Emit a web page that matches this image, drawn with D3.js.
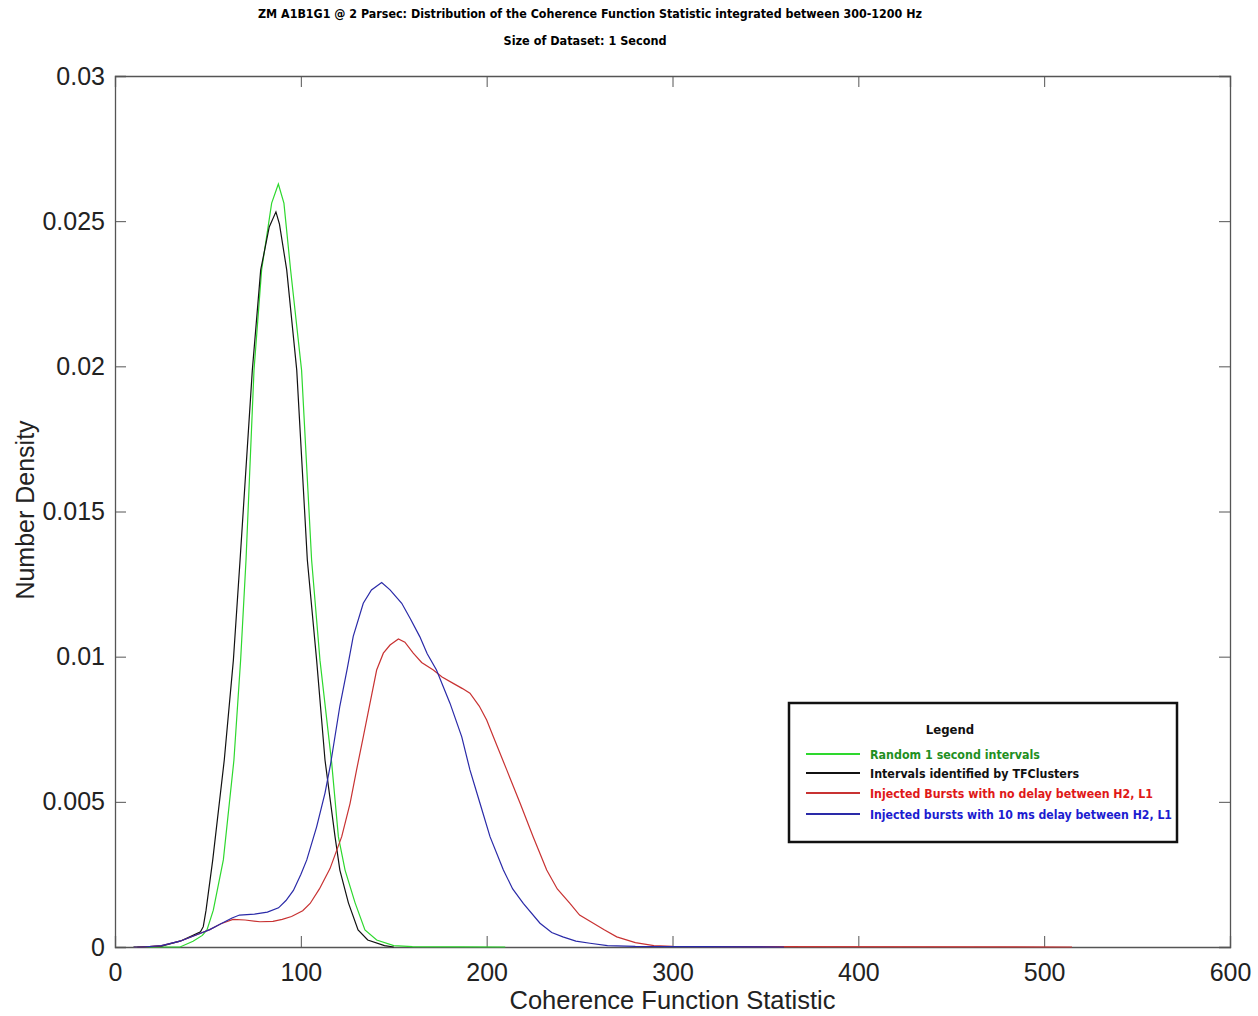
<!DOCTYPE html>
<html>
<head>
<meta charset="utf-8">
<script src="https://cdn.jsdelivr.net/npm/d3@7"></script>
<style>
  body { margin: 0; background: #fff; }
  .narrow { font-family: "Liberation Sans Narrow", "DejaVu Sans Condensed", "Arial Narrow", sans-serif; font-weight: bold; }
  .axis text { font-family: "Liberation Sans", Arial, sans-serif; font-size: 25px; fill: #222; }
  .axis path, .axis line { stroke: #555; }
</style>
</head>
<body>
<div id="chart"></div>
<script>
// values
const xTicks = [0, 100, 200, 300, 400, 500, 600];
const yTicks = [0, 0.005, 0.01, 0.015, 0.02, 0.025, 0.03];
const yTickLabels = ["0", "0.005", "0.01", "0.015", "0.02", "0.025", "0.03"];

// Random 1 second intervals (green)
const randomX = [10, 35, 42, 47, 49.5, 52.9, 58.3, 64, 67.6, 70.5, 74.8, 78.9, 84.3, 87.9, 90.9, 94.5, 100.4, 105.8, 110.3, 116.6, 120.2, 123.8, 129.2, 134.5, 140.8, 150, 160, 210];
const randomY = [0, 0, 0.0002, 0.0004, 0.00059, 0.00127, 0.003, 0.00644, 0.00988, 0.01333, 0.01987, 0.02332, 0.02562, 0.02628, 0.02562, 0.02332, 0.01987, 0.01333, 0.00988, 0.00634, 0.0038, 0.00265, 0.00152, 0.00059, 0.00024, 0.00005, 0.00001, 0];

// Intervals identified by TFClusters (black)
const tfX = [12, 25, 35, 42, 46, 47.5, 49, 52.6, 58.8, 63.7, 67.3, 73.9, 78.4, 83, 86.6, 88.5, 92.4, 97.8, 103.5, 108.5, 113, 118.4, 121, 125.6, 130.8, 136, 145, 150];
const tfY = [0, 0.00003, 0.0002, 0.0004, 0.00052, 0.0007, 0.00127, 0.003, 0.00644, 0.00988, 0.01333, 0.01987, 0.02332, 0.0248, 0.02532, 0.0249, 0.02332, 0.01987, 0.01333, 0.00988, 0.00644, 0.0038, 0.00265, 0.00152, 0.00059, 0.00024, 0.00005, 0];

// Injected bursts, no delay between H2, L1 (red)
const noDelayX = [10, 15, 25, 35, 45, 51, 57, 63.5, 70, 78, 85, 90, 95, 101, 105, 110, 115.7, 122, 126.5, 130, 133.6, 137.2, 140.8, 144.4, 148, 152.5, 156, 160.5, 165, 171.3, 176, 182, 187, 191, 196, 200, 203.6, 210.8, 218, 225, 232.3, 238, 244.8, 250, 257.4, 263, 270, 280, 290, 300, 515];
const noDelayY = [0, 0, 0.00005, 0.0002, 0.00045, 0.0006, 0.0008, 0.00095, 0.00093, 0.00087, 0.00088, 0.00095, 0.00105, 0.00125, 0.0015, 0.002, 0.0027, 0.0038, 0.00495, 0.0061, 0.00724, 0.00839, 0.00954, 0.01012, 0.0104, 0.01061, 0.0105, 0.01012, 0.0098, 0.00954, 0.0093, 0.00908, 0.0089, 0.00874, 0.0083, 0.00782, 0.00724, 0.0061, 0.00495, 0.0038, 0.00265, 0.002, 0.0015, 0.0011, 0.00082, 0.0006, 0.00035, 0.00015, 0.00005, 0.00002, 0];

// Injected bursts, 10 ms delay between H2, L1 (blue)
const delayX = [10, 15, 25, 35, 45, 51, 57, 63, 67, 75, 82, 88, 92, 96, 100, 103.2, 108.5, 113, 116, 121, 125, 128.2, 133.6, 138, 143.5, 148, 154.3, 159, 164, 168, 173, 180.3, 186.6, 191, 196.4, 201.8, 209, 214, 219.7, 228.7, 235, 241, 248, 255.6, 265, 280, 360];
const delayY = [0, 0, 0.00005, 0.0002, 0.00045, 0.0006, 0.0008, 0.001, 0.0011, 0.00113, 0.0012, 0.00135, 0.0016, 0.00195, 0.0025, 0.003, 0.00414, 0.0053, 0.0063, 0.0083, 0.0096, 0.0107, 0.01184, 0.0123, 0.01255, 0.0123, 0.01184, 0.0113, 0.01069, 0.0101, 0.00954, 0.00839, 0.00724, 0.0061, 0.00495, 0.0038, 0.00265, 0.002, 0.0015, 0.00082, 0.0005, 0.00035, 0.0002, 0.00013, 0.00005, 0.00002, 0];

const seriesNames = ["Random 1 second intervals", "Intervals identified by TFClusters",
                     "Injected Bursts with no delay between H2, L1", "Injected bursts with 10 ms delay between H2, L1"];

const series = [
    {name: seriesNames[0], xs: randomX, ys: randomY, line: "#2ed82e", text: "#1f8f1f"},
    {name: seriesNames[1], xs: tfX, ys: tfY, line: "#111", text: "#111"},
    {name: seriesNames[2], xs: noDelayX, ys: noDelayY, line: "#c83232", text: "#e01818"},
    {name: seriesNames[3], xs: delayX, ys: delayY, line: "#2a2aa8", text: "#1c1cd0"}
];

const width = 1258, height = 1016;
const margin = {top: 76, right: 28, bottom: 69, left: 115};
const innerW = width - margin.left - margin.right;
const innerH = height - margin.top - margin.bottom;

const svg = d3.select("#chart").append("svg")
    .attr("width", width)
    .attr("height", height);

// titles
svg.append("text").attr("class", "narrow")
    .attr("x", 590).attr("y", 18)
    .attr("text-anchor", "middle")
    .attr("font-size", 13)
    .attr("textLength", 664).attr("lengthAdjust", "spacingAndGlyphs")
    .text("ZM A1B1G1 @ 2 Parsec: Distribution of the Coherence Function Statistic integrated between 300-1200 Hz");

svg.append("text").attr("class", "narrow")
    .attr("x", 585).attr("y", 45)
    .attr("text-anchor", "middle")
    .attr("font-size", 13)
    .attr("textLength", 163).attr("lengthAdjust", "spacingAndGlyphs")
    .text("Size of Dataset: 1 Second");

const g = svg.append("g")
    .attr("transform", `translate(${margin.left},${margin.top})`);

const x = d3.scaleLinear().domain([0, 600]).range([0, innerW]);
const y = d3.scaleLinear().domain([0, 0.03]).range([innerH, 0]);

// axes, ticks pointing inwards like the original
const tick = 11;
g.append("g").attr("class", "axis")
    .attr("transform", `translate(0,${innerH})`)
    .call(d3.axisBottom(x).tickValues(xTicks).tickSize(-tick).tickPadding(10).tickFormat(d3.format("d")))
    .selectAll("text").attr("dy", "0.95em");

g.append("g").attr("class", "axis")
    .call(d3.axisLeft(y).tickValues(yTicks).tickSize(-tick).tickPadding(10)
        .tickFormat((d, i) => yTickLabels[i]));

g.append("g").attr("class", "axis")
    .call(d3.axisTop(x).tickValues(xTicks).tickSize(-tick).tickFormat(""));

g.append("g").attr("class", "axis")
    .attr("transform", `translate(${innerW},0)`)
    .call(d3.axisRight(y).tickValues(yTicks).tickSize(-tick).tickFormat(""));

g.selectAll(".axis .domain").attr("stroke-width", 1.3);

// axis labels
svg.append("text")
    .attr("x", margin.left + x(300)).attr("y", 1009)
    .attr("text-anchor", "middle")
    .attr("font-family", "Liberation Sans, Arial, sans-serif")
    .attr("font-size", 25.5).attr("fill", "#222")
    .text("Coherence Function Statistic");

svg.append("text")
    .attr("transform", `translate(34,${510}) rotate(-90)`)
    .attr("text-anchor", "middle")
    .attr("font-family", "Liberation Sans, Arial, sans-serif")
    .attr("font-size", 25).attr("fill", "#222")
    .text("Number Density");

// curves
const line = d3.line()
    .x(d => x(d[0]))
    .y(d => y(d[1]));

g.append("g").selectAll("path.curve")
    .data(series)
    .enter().append("path")
    .attr("class", "curve")
    .attr("fill", "none")
    .attr("stroke", d => d.line)
    .attr("stroke-width", 1.2)
    .attr("d", d => line(d.xs.map((v, i) => [v, d.ys[i]])));

// legend
const lg = svg.append("g").attr("transform", "translate(789,703)");
lg.append("rect")
    .attr("width", 388).attr("height", 139)
    .attr("fill", "#fff").attr("stroke", "#111").attr("stroke-width", 2.5);

lg.append("text").attr("class", "narrow")
    .attr("x", 161).attr("y", 31)
    .attr("text-anchor", "middle").attr("font-size", 13).attr("fill", "#111")
    .text("Legend");

const legendW = [170, 209, 283, 302];
const item = lg.selectAll("g.item")
    .data(series)
    .enter().append("g")
    .attr("class", "item")
    .attr("transform", (d, i) => `translate(0,${[51, 70, 90, 111][i]})`);

item.append("line")
    .attr("x1", 17).attr("x2", 71)
    .attr("stroke", d => d.line).attr("stroke-width", 2);

item.append("text").attr("class", "narrow")
    .attr("x", 81).attr("y", 4.5)
    .attr("font-size", 13)
    .attr("fill", d => d.text)
    .attr("textLength", (d, i) => legendW[i]).attr("lengthAdjust", "spacingAndGlyphs")
    .text(d => d.name);
</script>
</body>
</html>
